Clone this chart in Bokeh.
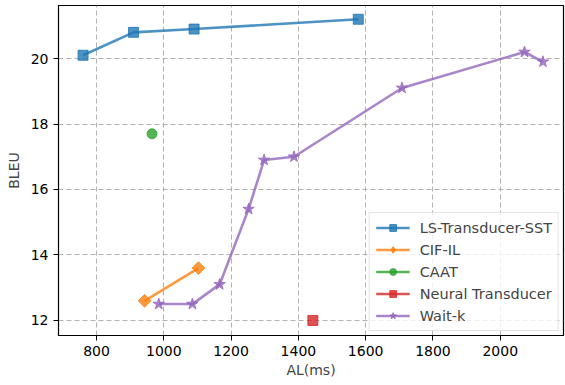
import math
from bokeh.plotting import figure
from bokeh.models import Range1d, Legend, LegendItem, FixedTicker
from bokeh.embed import file_html
from bokeh.resources import INLINE

ls_x = [760, 910, 1090, 1578]
ls_y = [20.1, 20.8, 20.9, 21.2]
cif_x = [943, 1103]
cif_y = [12.6, 13.6]
caat_x = [965]
caat_y = [17.7]
nt_x = [1443]
nt_y = [12.0]
wk_x = [985, 1085, 1166, 1252, 1298, 1387, 1708, 2072, 2127]
wk_y = [12.5, 12.5, 13.1, 15.4, 16.9, 17.0, 19.1, 20.2, 19.9]

x_ticks = [800, 1000, 1200, 1400, 1600, 1800, 2000]
y_ticks = [12, 14, 16, 18, 20]

FONT = "DejaVu Sans"

p = figure(width=565, height=385, output_backend="svg", toolbar_location=None,
           x_range=Range1d(687, 2188), y_range=Range1d(11.54, 21.62),
           min_border_left=58, min_border_right=2, min_border_top=5, min_border_bottom=50)

p.outline_line_color = "black"
p.outline_line_width = 1.2
p.outline_line_alpha = 1

for ax in (p.xaxis[0], p.yaxis[0]):
    ax.major_label_text_font = FONT
    ax.major_label_text_font_size = "14px"
    ax.major_label_text_color = "black"
    ax.axis_label_text_font = FONT
    ax.axis_label_text_font_size = "14px"
    ax.axis_label_text_font_style = "normal"
    ax.axis_line_color = "black"
    ax.major_tick_line_color = "black"
    ax.major_tick_out = 5
    ax.major_tick_in = 0
    ax.minor_tick_line_color = None

p.xaxis.axis_label = "AL(ms)"
p.yaxis.axis_label = "BLEU"
p.xaxis.ticker = FixedTicker(ticks=x_ticks)
p.yaxis.ticker = FixedTicker(ticks=y_ticks)
p.xaxis.axis_label_standoff = 3
p.yaxis.axis_label_standoff = 6

for g in (p.xgrid[0], p.ygrid[0]):
    g.grid_line_color = "#b0b0b0"
    g.grid_line_dash = "5 3"
    g.grid_line_width = 1

blue = "#1f77b4"
orange = "#ff7f0e"
green = "#2ca02c"
red = "#d62728"
purple = "#9467bd"
A = 0.8
LW = 2.6

items = []
l1 = p.line(ls_x, ls_y, line_color=blue, line_width=LW, line_alpha=A)
m1 = p.scatter(ls_x, ls_y, marker="square", size=10, fill_color=blue, line_color=blue, fill_alpha=A, line_alpha=A)
items.append(LegendItem(label="LS-Transducer-SST", renderers=[l1, m1]))

l2 = p.line(cif_x, cif_y, line_color=orange, line_width=LW, line_alpha=A)
m2 = p.scatter(cif_x, cif_y, marker="square", size=9, angle=math.pi / 4, fill_color=orange, line_color=orange, fill_alpha=A, line_alpha=A)
# legend-only proxy (not drawn in the plot area)
m2_leg = p.scatter([float("nan")], [float("nan")], marker="diamond", size=15, fill_color=orange, line_color=orange, fill_alpha=A, line_alpha=A)
items.append(LegendItem(label="CIF-IL", renderers=[l2, m2_leg]))

l3 = p.line(caat_x, caat_y, line_color=green, line_width=LW, line_alpha=A)
m3 = p.scatter(caat_x, caat_y, marker="circle", size=10, fill_color=green, line_color=green, fill_alpha=A, line_alpha=A)
items.append(LegendItem(label="CAAT", renderers=[l3, m3]))

l4 = p.line(nt_x, nt_y, line_color=red, line_width=LW, line_alpha=A)
m4 = p.scatter(nt_x, nt_y, marker="square", size=10, fill_color=red, line_color=red, fill_alpha=A, line_alpha=A)
items.append(LegendItem(label="Neural Transducer", renderers=[l4, m4]))

l5 = p.line(wk_x, wk_y, line_color=purple, line_width=LW, line_alpha=A)
m5 = p.scatter(wk_x, wk_y, marker="star", size=12, fill_color=purple, line_color=purple, fill_alpha=A, line_alpha=A)
items.append(LegendItem(label="Wait-k", renderers=[l5, m5]))

legend = Legend(items=items, location="bottom_right")
legend.label_text_font = FONT
legend.label_text_font_size = "14.5px"
legend.label_height = 17
legend.glyph_height = 17
legend.glyph_width = 34
legend.label_standoff = 10
legend.spacing = 5
legend.padding = 6
legend.margin = 4
legend.border_line_color = "#cccccc"
legend.border_line_width = 1
legend.background_fill_alpha = 0.8
p.add_layout(legend)

open("out.html", "w").write(file_html(p, INLINE))
